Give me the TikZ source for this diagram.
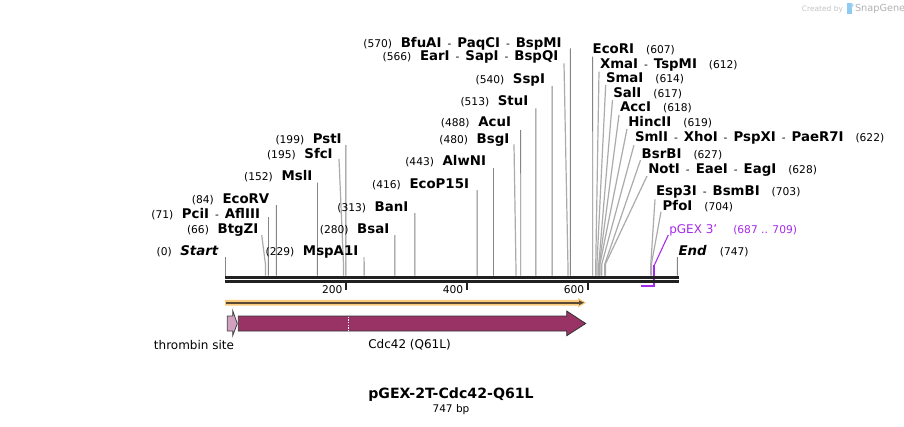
\documentclass[tikz,border=0pt]{standalone}
\usepackage{fontspec}
\setmainfont{DejaVu Sans}
\definecolor{sitegray}{HTML}{858585}
\definecolor{slantgray}{HTML}{ABABAB}
\definecolor{primer}{RGB}{165,42,235}
\definecolor{cdc}{HTML}{993366}
\definecolor{thromb}{HTML}{D3A1C0}
\definecolor{band}{HTML}{F9C97C}
\definecolor{bandline}{HTML}{5A4A33}
\definecolor{wm}{HTML}{C4C4C4}
\definecolor{wmblue}{HTML}{8FCBF0}
\newcommand\nm[1]{{\fontsize{10}{12}\selectfont\bfseries #1}}
\newcommand\ps[1]{{\fontsize{8}{9}\selectfont #1}}
\newcommand\sepd{\nm{\ }\hspace{1pt}\ps{-}\hspace{1pt}\nm{\ }}
\newcommand\gapL{\hspace{6.5pt}}
\newcommand\gapR{\hspace{9pt}}
% left-hand site: name, text, label right x, baseline y, line start x, line start y, bp, style
\newcommand\LS[8]{%
  \node[lbl,anchor=base east] (l#1) at (#3,#4) {#2};
  \coordinate (a#1) at (#5,#6);
  \coordinate (k#1) at ({225.5+0.605*#7},264);
  \coordinate (s#1) at ({225.5+0.605*#7},275.7);
  \draw[#8] (a#1) -- (k#1) -- (s#1);}
\newcommand\RS[8]{%
  \node[lbl,anchor=base west] (l#1) at (#3,#4) {#2};
  \coordinate (a#1) at (#5,#6);
  \coordinate (k#1) at ({225.5+0.605*#7},264);
  \coordinate (s#1) at ({225.5+0.605*#7},275.7);
  \draw[#8] (a#1) -- (k#1) -- (s#1);}
\tikzset{
  lbl/.style={inner sep=0pt, outer sep=0pt},
  vline/.style={draw=sitegray, line width=0.7pt},
  sline/.style={draw=slantgray, line width=0.9pt},
  barline/.style={draw=black!87},
}
\begin{document}
\begin{tikzpicture}[x=0.75pt,y=-0.75pt]
\useasboundingbox[fill=white] (0,0) rectangle (904,426);

% watermark
\node[lbl,anchor=base east,text=wm] (wmA) at (843,11) {\fontsize{5.6}{6}\selectfont Created by};
\fill[wmblue] (847,3) rectangle (851.5,13.5);
\fill[wmblue!70] (851.5,3) -- (854,5) -- (851.5,8) -- cycle;
\node[lbl,anchor=base west,text=wm!130] (wmB) at (855,11.5) {\fontsize{7.3}{8}\selectfont SnapGene};

% left-hand sites
\LS{Start}{\ps{(0)}\gapL\nm{\itshape Start}}{218.3}{255.7}{225.5}{257}{0}{vline}
\LS{BtgZI}{\ps{(66)}\gapL\nm{BtgZI}}{258.3}{233}{261.7}{235}{66}{sline}
\LS{PciI}{\ps{(71)}\gapL\nm{PciI}\sepd\nm{AflIII}}{260}{218}{268.5}{217}{71}{vline}
\LS{EcoRV}{\ps{(84)}\gapL\nm{EcoRV}}{269.3}{203}{276.3}{205}{84}{vline}
\LS{MslI}{\ps{(152)}\gapL\nm{MslI}}{312.3}{180.7}{317.5}{182.7}{152}{vline}
\LS{SfcI}{\ps{(195)}\gapL\nm{SfcI}}{332.7}{158}{339}{159}{195}{sline}
\LS{PstI}{\ps{(199)}\gapL\nm{PstI}}{341.7}{143}{345.9}{145}{199}{vline}
\LS{MspAI}{\ps{(229)}\gapL\nm{MspA1I}}{358.3}{255.7}{364}{257}{229}{vline}
\LS{BsaI}{\ps{(280)}\gapL\nm{BsaI}}{389.3}{233}{394.9}{235}{280}{vline}
\LS{BanI}{\ps{(313)}\gapL\nm{BanI}}{408.3}{211.3}{414.9}{213}{313}{vline}
\LS{EcoP}{\ps{(416)}\gapL\nm{EcoP15I}}{469}{188}{477.2}{190}{416}{vline}
\LS{AlwNI}{\ps{(443)}\gapL\nm{AlwNI}}{486}{165.7}{493.5}{168}{443}{vline}
\LS{BsgI}{\ps{(480)}\gapL\nm{BsgI}}{509.3}{143}{514}{144.3}{480}{sline}
\LS{AcuI}{\ps{(488)}\gapL\nm{AcuI}}{511}{126.5}{520.7}{130}{488}{vline}
\LS{StuI}{\ps{(513)}\gapL\nm{StuI}}{528.3}{105.5}{535.9}{108.3}{513}{vline}
\LS{SspI}{\ps{(540)}\gapL\nm{SspI}}{545}{83}{552.2}{86}{540}{vline}
\LS{EarI}{\ps{(566)}\gapL\nm{EarI}\sepd\nm{SapI}\sepd\nm{BspQI}}{558.3}{60}{564}{63.3}{566}{sline}
\LS{BfuAI}{\ps{(570)}\gapL\nm{BfuAI}\sepd\nm{PaqCI}\sepd\nm{BspMI}}{561.7}{47.3}{570.4}{48.3}{570}{vline}

% right-hand sites
\RS{EcoRI}{\nm{EcoRI}\gapR\ps{(607)}}{592.7}{53.5}{592.7}{56.7}{607}{vline}
\RS{XmaI}{\nm{XmaI}\sepd\nm{TspMI}\gapR\ps{(612)}}{600}{68.3}{599}{71.7}{612}{sline}
\RS{SmaI}{\nm{SmaI}\gapR\ps{(614)}}{606}{82.3}{605.7}{85}{614}{sline}
\RS{SalI}{\nm{SalI}\gapR\ps{(617)}}{613.3}{97.3}{612.5}{100}{617}{sline}
\RS{AccI}{\nm{AccI}\gapR\ps{(618)}}{620}{111.7}{619}{115}{618}{sline}
\RS{HincII}{\nm{HincII}\gapR\ps{(619)}}{628.3}{126.3}{627}{129}{619}{sline}
\RS{SmlI}{\nm{SmlI}\sepd\nm{XhoI}\sepd\nm{PspXI}\sepd\nm{PaeR7I}\gapR\ps{(622)}}{635}{141.7}{634}{145}{622}{sline}
\RS{BsrBI}{\nm{BsrBI}\gapR\ps{(627)}}{641.7}{158}{640.5}{160}{627}{sline}
\RS{NotI}{\nm{NotI}\sepd\nm{EaeI}\sepd\nm{EagI}\gapR\ps{(628)}}{648.3}{173}{647}{176}{628}{sline}
\RS{EspI}{\nm{Esp3I}\sepd\nm{BsmBI}\gapR\ps{(703)}}{656}{195.7}{655}{199.3}{703}{sline}
\RS{PfoI}{\nm{PfoI}\gapR\ps{(704)}}{662.7}{210.7}{661}{211.7}{704}{sline}
\RS{End}{\nm{\itshape End}\hspace{10pt}\ps{(747)}}{678.5}{255.7}{677.4}{257}{747}{vline}

% primer
\node[lbl,anchor=base west,text=primer] (lpGEX) at (669.3,233) {{\fontsize{9}{11}\selectfont pGEX 3'}\hspace{12pt}\ps{(687 .. 709)}};
\coordinate (pa) at (668.3,235);
\coordinate (pk) at (654.4,265);
\coordinate (pb) at (654.4,285.7);
\coordinate (pe) at (641.1,285.7);
\draw[primer, line width=0.8pt] (pa) -- (pk);
\draw[primer, line width=1.5pt] (pk) -- (pb) -- (pe);

% sequence bar
\coordinate (b0) at (225,277.2);
\coordinate (b1) at (679,277.2);
\coordinate (c0) at (225,281.5);
\coordinate (c1) at (679,281.5);
\draw[barline, line width=2.3pt] (b0) -- (b1);
\draw[barline, line width=1.8pt] (c0) -- (c1);

% ticks
\foreach \tx/\tl in {346/200, 466.7/400, 587.7/600}{
  \draw[black!87, line width=1.5pt] (\tx,282.5) -- (\tx,289.5);
  \node[lbl,anchor=east] (t\tl) at (\tx-3.5,289.5) {\fontsize{8}{9}\selectfont \tl};
}

% orange feature
\fill[band] (225,299.8) -- (578,299.8) -- (578,298) -- (586,302.7) -- (578,307.5) -- (578,305.7) -- (225,305.7) -- cycle;
\draw[bandline, line width=1.3pt] (226,302.7) -- (580,302.7);
\fill[bandline] (579,300.3) -- (584,302.7) -- (579,305.1) -- cycle;

% thrombin site
\filldraw[fill=thromb, draw=black!75, line width=0.6pt] (227.3,316) -- (232.7,316) -- (232.7,310.7) -- (237.3,323.5) -- (232.7,335.7) -- (232.7,331) -- (227.3,331) -- cycle;
\node[lbl] (lthromb) at (194,345) {\fontsize{9}{11}\selectfont thrombin site};

% Cdc42 arrow
\filldraw[fill=cdc, draw=black!80, line width=0.6pt] (238.3,316) -- (566.7,316) -- (566.7,311) -- (585.7,323.5) -- (566.7,335.7) -- (566.7,331) -- (238.3,331) -- cycle;
\draw[white, line width=0.8pt, dash pattern=on 1pt off 1pt] (348.3,316.5) -- (348.3,330.5);
\node[lbl] (lcdc) at (409.5,345) {\fontsize{9}{11}\selectfont Cdc42 (Q61L)};

% title
\node[lbl] (title) at (451,395) {\fontsize{10.6}{12}\selectfont\bfseries pGEX-2T-Cdc42-Q61L};
\node[lbl] (size) at (451,409.5) {\fontsize{7.9}{9}\selectfont 747 bp};
\end{tikzpicture}
\end{document}
